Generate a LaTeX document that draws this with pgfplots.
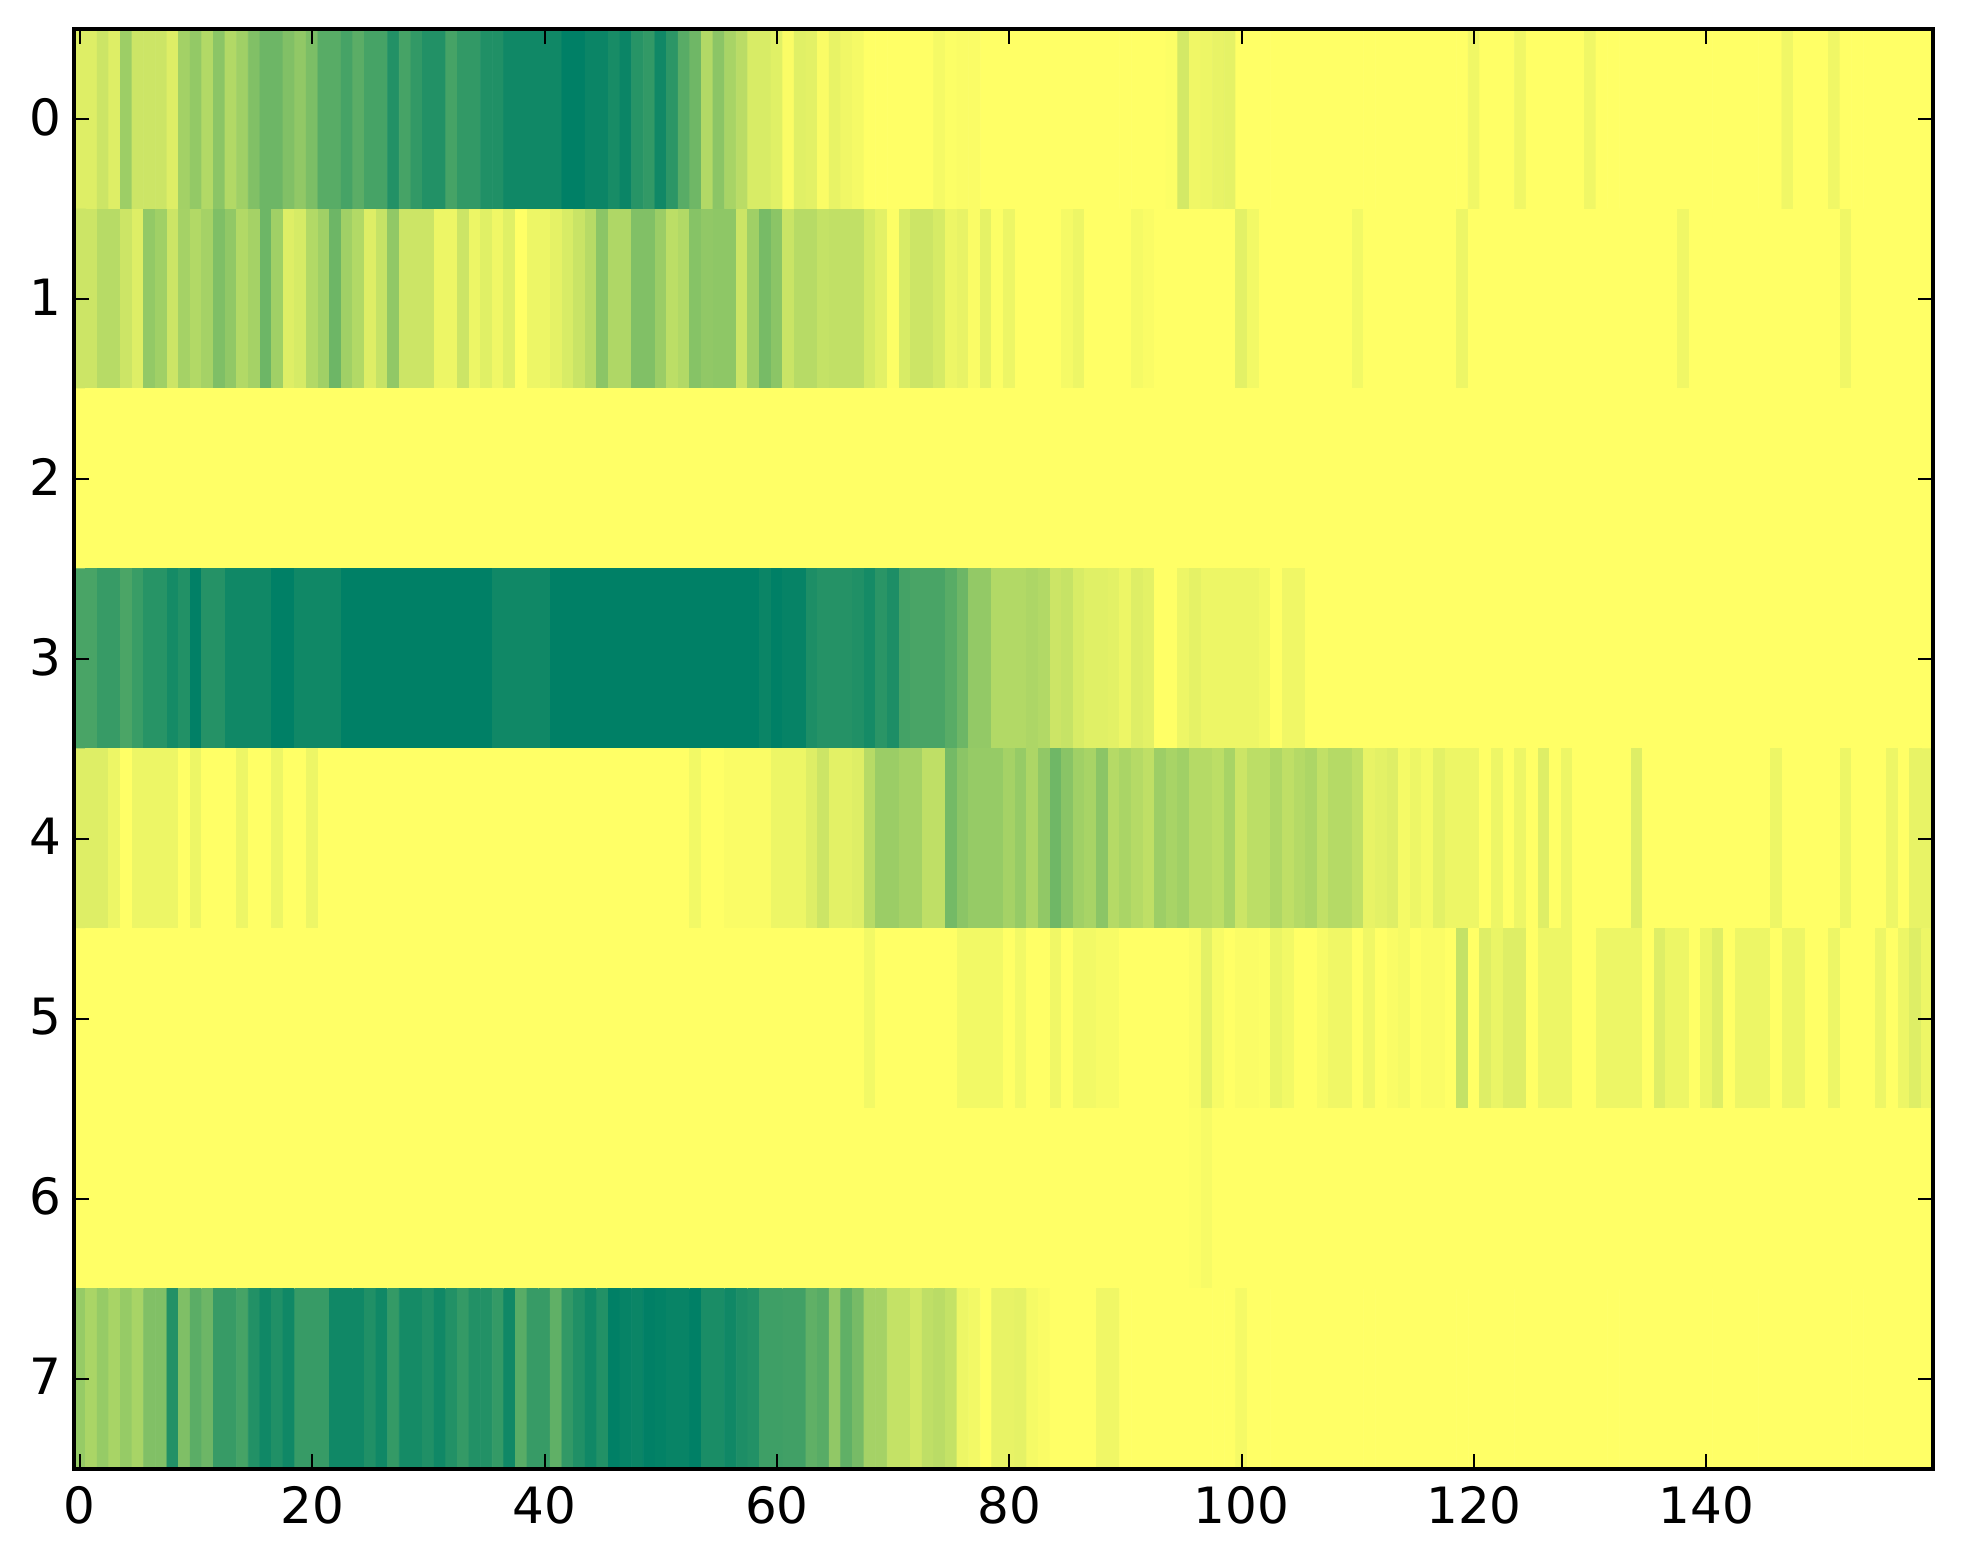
\documentclass[border=0pt]{standalone}
\usepackage{fontspec}
\setmainfont{DejaVu Sans}
\usepackage{pgfplots}
\pgfplotsset{compat=1.18}
\begin{document}
\begin{tikzpicture}
\useasboundingbox (-37pt,-46.75pt) rectangle (944.5pt,734.25pt);
\begin{axis}[
  at={(0pt,0pt)}, anchor=south west,
  scale only axis, width=929.5pt, height=719.75pt,
  xmin=-0.5, xmax=159.5, ymin=-0.5, ymax=7.5, y dir=reverse,
  axis on top, axis line style={line width=2pt},
  tick align=inside, major tick length=7.5pt,
  tick style={black, line width=1pt},
  xtick={0,20,40,60,80,100,120,140}, ytick={0,1,2,3,4,5,6,7},
  /pgf/number format/assume math mode=true,
  ticklabel style={font=\fontsize{25}{30}\selectfont},
  xticklabel style={yshift=-5.5pt},
  yticklabel style={xshift=-3pt, yshift=1pt},
  colormap={summerr}{rgb255=(255,255,102) rgb255=(0,128,102)},
  point meta min=0, point meta max=100,
]
\addplot[matrix plot*, mesh/cols=160, point meta=explicit]
 table[header=false, row sep=\\, x expr={mod(\coordindex,160)}, y expr={floor(\coordindex/160)}, meta index=0]{
13\\13\\20\\13\\38\\20\\20\\20\\13\\36\\
42\\30\\45\\30\\37\\49\\57\\57\\49\\43\\
51\\65\\65\\72\\64\\72\\72\\86\\72\\80\\
86\\86\\72\\80\\80\\87\\87\\93\\93\\93\\
93\\93\\100\\100\\95\\95\\90\\95\\84\\80\\
93\\82\\65\\56\\30\\45\\34\\27\\15\\15\\
12\\2\\12\\11\\2\\9\\6\\4\\0\\0\\
0\\0\\0\\0\\4\\1\\2\\2\\0\\0\\
0\\0\\0\\0\\0\\0\\0\\0\\0\\0\\
0\\0\\0\\0\\1\\17\\6\\7\\9\\10\\
0\\0\\0\\0\\0\\0\\0\\0\\0\\0\\
0\\0\\0\\0\\0\\0\\0\\0\\0\\0\\
6\\0\\0\\0\\6\\0\\0\\0\\0\\0\\
6\\0\\0\\0\\0\\0\\0\\0\\0\\0\\
0\\0\\0\\0\\0\\0\\0\\6\\0\\0\\
0\\6\\0\\0\\0\\0\\0\\0\\0\\0\\
20\\20\\28\\28\\20\\13\\42\\37\\20\\35\\
30\\35\\50\\43\\30\\35\\57\\37\\13\\16\\
30\\37\\57\\37\\30\\13\\22\\43\\20\\20\\
20\\7\\7\\20\\7\\12\\6\\12\\0\\7\\
7\\10\\15\\21\\28\\45\\31\\31\\49\\49\\
39\\26\\30\\47\\43\\44\\44\\20\\37\\53\\
45\\21\\28\\28\\23\\24\\24\\24\\16\\11\\
1\\15\\20\\20\\16\\7\\9\\2\\10\\1\\
7\\0\\0\\0\\0\\4\\7\\0\\0\\0\\
0\\4\\2\\0\\0\\0\\0\\0\\0\\0\\
11\\5\\0\\0\\0\\0\\0\\0\\0\\0\\
5\\0\\0\\0\\0\\0\\0\\0\\0\\7\\
0\\0\\0\\0\\0\\0\\0\\0\\0\\0\\
0\\0\\0\\0\\0\\0\\0\\0\\6\\0\\
0\\0\\0\\0\\0\\0\\0\\0\\0\\0\\
0\\0\\6\\0\\0\\0\\0\\0\\0\\0\\
0\\0\\0\\0\\0\\0\\0\\0\\0\\0\\
0\\0\\0\\0\\0\\0\\0\\0\\0\\0\\
0\\0\\0\\0\\0\\0\\0\\0\\0\\0\\
0\\0\\0\\0\\0\\0\\0\\0\\0\\0\\
0\\0\\0\\0\\0\\0\\0\\0\\0\\0\\
0\\0\\0\\0\\0\\0\\0\\0\\0\\0\\
0\\0\\0\\0\\0\\0\\0\\0\\0\\0\\
0\\0\\0\\0\\0\\0\\0\\0\\0\\0\\
0\\0\\0\\0\\0\\0\\0\\0\\0\\0\\
0\\0\\0\\0\\0\\0\\0\\0\\0\\0\\
0\\0\\0\\0\\0\\0\\0\\0\\0\\0\\
0\\0\\0\\0\\0\\0\\0\\0\\0\\0\\
0\\0\\0\\0\\0\\0\\0\\0\\0\\0\\
0\\0\\0\\0\\0\\0\\0\\0\\0\\0\\
0\\0\\0\\0\\0\\0\\0\\0\\0\\0\\
0\\0\\0\\0\\0\\0\\0\\0\\0\\0\\
71\\71\\78\\78\\70\\77\\84\\84\\91\\86\\
99\\85\\85\\93\\93\\93\\93\\100\\100\\93\\
93\\93\\93\\100\\100\\100\\100\\100\\100\\100\\
100\\100\\100\\100\\100\\100\\93\\93\\93\\93\\
93\\100\\100\\100\\100\\100\\100\\100\\100\\100\\
100\\100\\100\\100\\100\\100\\100\\100\\100\\95\\
100\\97\\97\\88\\85\\85\\85\\87\\91\\83\\
88\\73\\71\\71\\71\\65\\57\\42\\42\\30\\
30\\30\\32\\30\\20\\22\\15\\12\\12\\11\\
7\\13\\11\\0\\0\\7\\10\\7\\7\\7\\
7\\7\\5\\0\\6\\6\\0\\0\\0\\0\\
0\\0\\0\\0\\0\\0\\0\\0\\0\\0\\
0\\0\\0\\0\\0\\0\\0\\0\\0\\0\\
0\\0\\0\\0\\0\\0\\0\\0\\0\\0\\
0\\0\\0\\0\\0\\0\\0\\0\\0\\0\\
0\\0\\0\\0\\0\\0\\0\\0\\0\\0\\
13\\13\\13\\7\\0\\7\\7\\7\\7\\0\\
7\\0\\0\\0\\7\\0\\0\\7\\0\\0\\
7\\0\\0\\0\\0\\0\\0\\0\\0\\0\\
0\\0\\0\\0\\0\\0\\0\\0\\0\\0\\
0\\0\\0\\0\\0\\0\\0\\0\\0\\0\\
0\\0\\0\\5\\0\\0\\2\\2\\2\\2\\
7\\7\\7\\13\\20\\11\\11\\13\\28\\39\\
39\\35\\35\\25\\25\\54\\45\\41\\41\\41\\
35\\41\\32\\43\\56\\46\\37\\34\\45\\29\\
33\\29\\25\\38\\34\\37\\29\\29\\26\\34\\
20\\26\\26\\31\\25\\29\\32\\24\\29\\29\\
24\\9\\11\\13\\4\\7\\4\\11\\7\\7\\
7\\0\\7\\0\\7\\0\\13\\0\\7\\0\\
0\\0\\0\\0\\13\\0\\0\\0\\0\\0\\
0\\0\\0\\0\\0\\0\\7\\0\\0\\0\\
0\\0\\7\\0\\0\\0\\7\\0\\9\\9\\
0\\0\\0\\0\\0\\0\\0\\0\\0\\0\\
0\\0\\0\\0\\0\\0\\0\\0\\0\\0\\
0\\0\\0\\0\\0\\0\\0\\0\\0\\0\\
0\\0\\0\\0\\0\\0\\0\\0\\0\\0\\
0\\0\\0\\0\\0\\0\\0\\0\\0\\0\\
0\\0\\0\\0\\0\\0\\0\\0\\0\\0\\
0\\0\\0\\0\\0\\0\\0\\0\\5\\0\\
0\\0\\0\\0\\0\\0\\5\\5\\5\\5\\
0\\5\\0\\0\\6\\0\\5\\5\\3\\3\\
0\\0\\0\\0\\0\\0\\2\\11\\3\\0\\
2\\2\\1\\8\\5\\0\\0\\3\\6\\6\\
0\\6\\0\\2\\4\\0\\2\\2\\0\\23\\
0\\13\\8\\13\\13\\0\\7\\7\\7\\0\\
0\\7\\7\\7\\7\\0\\13\\7\\7\\0\\
7\\13\\0\\7\\7\\7\\0\\7\\7\\0\\
0\\7\\0\\0\\0\\7\\0\\7\\13\\7\\
0\\0\\0\\0\\0\\0\\0\\0\\0\\0\\
0\\0\\0\\0\\0\\0\\0\\0\\0\\0\\
0\\0\\0\\0\\0\\0\\0\\0\\0\\0\\
0\\0\\0\\0\\0\\0\\0\\0\\0\\0\\
0\\0\\0\\0\\0\\0\\0\\0\\0\\0\\
0\\0\\0\\0\\0\\0\\0\\0\\0\\0\\
0\\0\\0\\0\\0\\0\\0\\0\\0\\0\\
0\\0\\0\\0\\0\\0\\0\\0\\0\\0\\
0\\0\\0\\0\\0\\0\\0\\0\\0\\0\\
0\\0\\0\\0\\0\\0\\1\\3\\0\\0\\
0\\0\\0\\0\\0\\0\\0\\0\\0\\0\\
0\\0\\0\\0\\0\\0\\0\\0\\0\\0\\
0\\0\\0\\0\\0\\0\\0\\0\\0\\0\\
0\\0\\0\\0\\0\\0\\0\\0\\0\\0\\
0\\0\\0\\0\\0\\0\\0\\0\\0\\0\\
0\\0\\0\\0\\0\\0\\0\\0\\0\\0\\
41\\33\\41\\34\\41\\34\\49\\49\\86\\50\\
64\\57\\78\\78\\72\\86\\93\\87\\93\\78\\
78\\78\\93\\93\\93\\87\\93\\79\\91\\91\\
87\\93\\86\\79\\86\\86\\79\\93\\65\\78\\
78\\62\\80\\87\\93\\86\\100\\97\\95\\99\\
98\\96\\96\\100\\89\\89\\93\\88\\86\\75\\
75\\74\\74\\62\\65\\43\\62\\53\\35\\35\\
23\\23\\18\\25\\27\\23\\7\\5\\0\\9\\
9\\10\\4\\2\\0\\0\\0\\0\\6\\6\\
0\\0\\0\\0\\0\\0\\0\\0\\0\\0\\
4\\0\\0\\0\\0\\0\\0\\0\\0\\0\\
0\\0\\0\\0\\0\\0\\0\\0\\0\\0\\
0\\0\\0\\0\\0\\0\\0\\0\\0\\0\\
0\\0\\0\\0\\0\\0\\0\\0\\0\\0\\
0\\0\\0\\0\\0\\0\\0\\0\\0\\0\\
0\\0\\0\\0\\0\\0\\0\\0\\0\\0\\
};
\end{axis}
\end{tikzpicture}
\end{document}
